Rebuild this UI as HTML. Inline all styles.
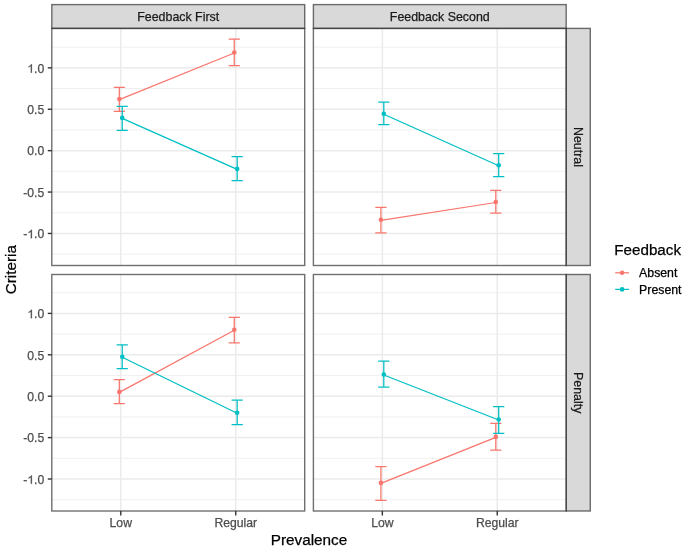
<!DOCTYPE html><html><head><meta charset="utf-8"><style>html,body{margin:0;padding:0;background:#fff;}svg{display:block;filter:blur(0.4px);}text{font-family:"Liberation Sans",sans-serif;stroke:currentColor;stroke-width:0.25px;}</style></head><body>
<svg width="685" height="551" viewBox="0 0 685 551">
<rect x="0" y="0" width="685" height="551" fill="#fff"/>
<rect x="51.8" y="4.6" width="252.9" height="23.8" fill="#D9D9D9"/>
<rect x="313.4" y="4.6" width="252.8" height="23.8" fill="#D9D9D9"/>
<rect x="566.2" y="28.4" width="24.1" height="237.1" fill="#D9D9D9"/>
<rect x="566.2" y="274.5" width="24.1" height="236.5" fill="#D9D9D9"/>
<line x1="51.8" x2="304.7" y1="47.15" y2="47.15" stroke="#EBEBEB" stroke-width="0.75"/>
<line x1="51.8" x2="304.7" y1="88.55" y2="88.55" stroke="#EBEBEB" stroke-width="0.75"/>
<line x1="51.8" x2="304.7" y1="129.95" y2="129.95" stroke="#EBEBEB" stroke-width="0.75"/>
<line x1="51.8" x2="304.7" y1="171.35" y2="171.35" stroke="#EBEBEB" stroke-width="0.75"/>
<line x1="51.8" x2="304.7" y1="212.75" y2="212.75" stroke="#EBEBEB" stroke-width="0.75"/>
<line x1="51.8" x2="304.7" y1="254.15" y2="254.15" stroke="#EBEBEB" stroke-width="0.75"/>
<line x1="51.8" x2="304.7" y1="67.85" y2="67.85" stroke="#EBEBEB" stroke-width="1.5"/>
<line x1="51.8" x2="304.7" y1="109.25" y2="109.25" stroke="#EBEBEB" stroke-width="1.5"/>
<line x1="51.8" x2="304.7" y1="150.65" y2="150.65" stroke="#EBEBEB" stroke-width="1.5"/>
<line x1="51.8" x2="304.7" y1="192.05" y2="192.05" stroke="#EBEBEB" stroke-width="1.5"/>
<line x1="51.8" x2="304.7" y1="233.45" y2="233.45" stroke="#EBEBEB" stroke-width="1.5"/>
<line x1="120.77" x2="120.77" y1="28.4" y2="265.5" stroke="#EBEBEB" stroke-width="1.5"/>
<line x1="235.73" x2="235.73" y1="28.4" y2="265.5" stroke="#EBEBEB" stroke-width="1.5"/>
<path d="M113.72 87.4H124.92M119.32 87.4V111.4M113.72 111.4H124.92" stroke="#F8766D" stroke-width="1.25" fill="none"/>
<path d="M228.68 39.1H239.88M234.28 39.1V65.7M228.68 65.7H239.88" stroke="#F8766D" stroke-width="1.25" fill="none"/>
<path d="M116.62 106.4H127.82M122.22 106.4V130.4M116.62 130.4H127.82" stroke="#00BFC4" stroke-width="1.25" fill="none"/>
<path d="M231.58 156.5H242.78M237.18 156.5V180.7M231.58 180.7H242.78" stroke="#00BFC4" stroke-width="1.25" fill="none"/>
<line x1="119.32" y1="99.6" x2="234.28" y2="53" stroke="#F8766D" stroke-width="1.25"/>
<circle cx="119.32" cy="99.1" r="2.3" fill="#F8766D"/>
<circle cx="234.28" cy="52.5" r="2.3" fill="#F8766D"/>
<line x1="122.22" y1="118.4" x2="237.18" y2="169.4" stroke="#00BFC4" stroke-width="1.25"/>
<circle cx="122.22" cy="117.9" r="2.3" fill="#00BFC4"/>
<circle cx="237.18" cy="168.9" r="2.3" fill="#00BFC4"/>
<rect x="51.8" y="28.4" width="252.9" height="237.1" fill="none" stroke="#333333" stroke-opacity="0.7" stroke-width="1.4"/>
<line x1="313.4" x2="566.2" y1="47.15" y2="47.15" stroke="#EBEBEB" stroke-width="0.75"/>
<line x1="313.4" x2="566.2" y1="88.55" y2="88.55" stroke="#EBEBEB" stroke-width="0.75"/>
<line x1="313.4" x2="566.2" y1="129.95" y2="129.95" stroke="#EBEBEB" stroke-width="0.75"/>
<line x1="313.4" x2="566.2" y1="171.35" y2="171.35" stroke="#EBEBEB" stroke-width="0.75"/>
<line x1="313.4" x2="566.2" y1="212.75" y2="212.75" stroke="#EBEBEB" stroke-width="0.75"/>
<line x1="313.4" x2="566.2" y1="254.15" y2="254.15" stroke="#EBEBEB" stroke-width="0.75"/>
<line x1="313.4" x2="566.2" y1="67.85" y2="67.85" stroke="#EBEBEB" stroke-width="1.5"/>
<line x1="313.4" x2="566.2" y1="109.25" y2="109.25" stroke="#EBEBEB" stroke-width="1.5"/>
<line x1="313.4" x2="566.2" y1="150.65" y2="150.65" stroke="#EBEBEB" stroke-width="1.5"/>
<line x1="313.4" x2="566.2" y1="192.05" y2="192.05" stroke="#EBEBEB" stroke-width="1.5"/>
<line x1="313.4" x2="566.2" y1="233.45" y2="233.45" stroke="#EBEBEB" stroke-width="1.5"/>
<line x1="382.35" x2="382.35" y1="28.4" y2="265.5" stroke="#EBEBEB" stroke-width="1.5"/>
<line x1="497.25" x2="497.25" y1="28.4" y2="265.5" stroke="#EBEBEB" stroke-width="1.5"/>
<path d="M375.3 207.3H386.5M380.9 207.3V232.8M375.3 232.8H386.5" stroke="#F8766D" stroke-width="1.25" fill="none"/>
<path d="M490.2 190.4H501.4M495.8 190.4V213.2M490.2 213.2H501.4" stroke="#F8766D" stroke-width="1.25" fill="none"/>
<path d="M378.2 102.1H389.4M383.8 102.1V124.7M378.2 124.7H389.4" stroke="#00BFC4" stroke-width="1.25" fill="none"/>
<path d="M493.1 153.7H504.3M498.7 153.7V176.5M493.1 176.5H504.3" stroke="#00BFC4" stroke-width="1.25" fill="none"/>
<line x1="380.9" y1="220.3" x2="495.8" y2="202.5" stroke="#F8766D" stroke-width="1.25"/>
<circle cx="380.9" cy="219.8" r="2.3" fill="#F8766D"/>
<circle cx="495.8" cy="202" r="2.3" fill="#F8766D"/>
<line x1="383.8" y1="114.3" x2="498.7" y2="165.7" stroke="#00BFC4" stroke-width="1.25"/>
<circle cx="383.8" cy="113.8" r="2.3" fill="#00BFC4"/>
<circle cx="498.7" cy="165.2" r="2.3" fill="#00BFC4"/>
<rect x="313.4" y="28.4" width="252.8" height="237.1" fill="none" stroke="#333333" stroke-opacity="0.7" stroke-width="1.4"/>
<line x1="51.8" x2="304.7" y1="292.7" y2="292.7" stroke="#EBEBEB" stroke-width="0.75"/>
<line x1="51.8" x2="304.7" y1="334.1" y2="334.1" stroke="#EBEBEB" stroke-width="0.75"/>
<line x1="51.8" x2="304.7" y1="375.5" y2="375.5" stroke="#EBEBEB" stroke-width="0.75"/>
<line x1="51.8" x2="304.7" y1="416.9" y2="416.9" stroke="#EBEBEB" stroke-width="0.75"/>
<line x1="51.8" x2="304.7" y1="458.3" y2="458.3" stroke="#EBEBEB" stroke-width="0.75"/>
<line x1="51.8" x2="304.7" y1="499.7" y2="499.7" stroke="#EBEBEB" stroke-width="0.75"/>
<line x1="51.8" x2="304.7" y1="313.4" y2="313.4" stroke="#EBEBEB" stroke-width="1.5"/>
<line x1="51.8" x2="304.7" y1="354.8" y2="354.8" stroke="#EBEBEB" stroke-width="1.5"/>
<line x1="51.8" x2="304.7" y1="396.2" y2="396.2" stroke="#EBEBEB" stroke-width="1.5"/>
<line x1="51.8" x2="304.7" y1="437.6" y2="437.6" stroke="#EBEBEB" stroke-width="1.5"/>
<line x1="51.8" x2="304.7" y1="479" y2="479" stroke="#EBEBEB" stroke-width="1.5"/>
<line x1="120.77" x2="120.77" y1="274.5" y2="511" stroke="#EBEBEB" stroke-width="1.5"/>
<line x1="235.73" x2="235.73" y1="274.5" y2="511" stroke="#EBEBEB" stroke-width="1.5"/>
<path d="M113.72 379.6H124.92M119.32 379.6V403.7M113.72 403.7H124.92" stroke="#F8766D" stroke-width="1.25" fill="none"/>
<path d="M228.68 317.3H239.88M234.28 317.3V342.8M228.68 342.8H239.88" stroke="#F8766D" stroke-width="1.25" fill="none"/>
<path d="M116.62 344.8H127.82M122.22 344.8V368.7M116.62 368.7H127.82" stroke="#00BFC4" stroke-width="1.25" fill="none"/>
<path d="M231.58 400.1H242.78M237.18 400.1V424.6M231.58 424.6H242.78" stroke="#00BFC4" stroke-width="1.25" fill="none"/>
<line x1="119.32" y1="392.4" x2="234.28" y2="330.2" stroke="#F8766D" stroke-width="1.25"/>
<circle cx="119.32" cy="391.9" r="2.3" fill="#F8766D"/>
<circle cx="234.28" cy="329.7" r="2.3" fill="#F8766D"/>
<line x1="122.22" y1="357.3" x2="237.18" y2="413.3" stroke="#00BFC4" stroke-width="1.25"/>
<circle cx="122.22" cy="356.8" r="2.3" fill="#00BFC4"/>
<circle cx="237.18" cy="412.8" r="2.3" fill="#00BFC4"/>
<rect x="51.8" y="274.5" width="252.9" height="236.5" fill="none" stroke="#333333" stroke-opacity="0.7" stroke-width="1.4"/>
<line x1="313.4" x2="566.2" y1="292.7" y2="292.7" stroke="#EBEBEB" stroke-width="0.75"/>
<line x1="313.4" x2="566.2" y1="334.1" y2="334.1" stroke="#EBEBEB" stroke-width="0.75"/>
<line x1="313.4" x2="566.2" y1="375.5" y2="375.5" stroke="#EBEBEB" stroke-width="0.75"/>
<line x1="313.4" x2="566.2" y1="416.9" y2="416.9" stroke="#EBEBEB" stroke-width="0.75"/>
<line x1="313.4" x2="566.2" y1="458.3" y2="458.3" stroke="#EBEBEB" stroke-width="0.75"/>
<line x1="313.4" x2="566.2" y1="499.7" y2="499.7" stroke="#EBEBEB" stroke-width="0.75"/>
<line x1="313.4" x2="566.2" y1="313.4" y2="313.4" stroke="#EBEBEB" stroke-width="1.5"/>
<line x1="313.4" x2="566.2" y1="354.8" y2="354.8" stroke="#EBEBEB" stroke-width="1.5"/>
<line x1="313.4" x2="566.2" y1="396.2" y2="396.2" stroke="#EBEBEB" stroke-width="1.5"/>
<line x1="313.4" x2="566.2" y1="437.6" y2="437.6" stroke="#EBEBEB" stroke-width="1.5"/>
<line x1="313.4" x2="566.2" y1="479" y2="479" stroke="#EBEBEB" stroke-width="1.5"/>
<line x1="382.35" x2="382.35" y1="274.5" y2="511" stroke="#EBEBEB" stroke-width="1.5"/>
<line x1="497.25" x2="497.25" y1="274.5" y2="511" stroke="#EBEBEB" stroke-width="1.5"/>
<path d="M375.3 466.5H386.5M380.9 466.5V500.4M375.3 500.4H386.5" stroke="#F8766D" stroke-width="1.25" fill="none"/>
<path d="M490.2 423.3H501.4M495.8 423.3V450.1M490.2 450.1H501.4" stroke="#F8766D" stroke-width="1.25" fill="none"/>
<path d="M378.2 361.2H389.4M383.8 361.2V387.2M378.2 387.2H389.4" stroke="#00BFC4" stroke-width="1.25" fill="none"/>
<path d="M493.1 406.6H504.3M498.7 406.6V433.3M493.1 433.3H504.3" stroke="#00BFC4" stroke-width="1.25" fill="none"/>
<line x1="380.9" y1="483.4" x2="495.8" y2="437.4" stroke="#F8766D" stroke-width="1.25"/>
<circle cx="380.9" cy="482.9" r="2.3" fill="#F8766D"/>
<circle cx="495.8" cy="436.9" r="2.3" fill="#F8766D"/>
<line x1="383.8" y1="375" x2="498.7" y2="420" stroke="#00BFC4" stroke-width="1.25"/>
<circle cx="383.8" cy="374.5" r="2.3" fill="#00BFC4"/>
<circle cx="498.7" cy="419.5" r="2.3" fill="#00BFC4"/>
<rect x="313.4" y="274.5" width="252.8" height="236.5" fill="none" stroke="#333333" stroke-opacity="0.7" stroke-width="1.4"/>
<rect x="51.8" y="4.6" width="252.9" height="23.8" fill="none" stroke="#333333" stroke-opacity="0.7" stroke-width="1.4"/>
<text x="178.25" y="20.5" font-size="12.4" fill="#1A1A1A" color="#1A1A1A" text-anchor="middle">Feedback First</text>
<rect x="313.4" y="4.6" width="252.8" height="23.8" fill="none" stroke="#333333" stroke-opacity="0.7" stroke-width="1.4"/>
<text x="439.8" y="20.5" font-size="12.4" fill="#1A1A1A" color="#1A1A1A" text-anchor="middle">Feedback Second</text>
<rect x="566.2" y="28.4" width="24.1" height="237.1" fill="none" stroke="#333333" stroke-opacity="0.7" stroke-width="1.4"/>
<text transform="translate(574.2 146.95) rotate(90)" x="0" y="0" font-size="12.4" fill="#1A1A1A" color="#1A1A1A" text-anchor="middle">Neutral</text>
<rect x="566.2" y="274.5" width="24.1" height="236.5" fill="none" stroke="#333333" stroke-opacity="0.7" stroke-width="1.4"/>
<text transform="translate(574.2 392.75) rotate(90)" x="0" y="0" font-size="12.4" fill="#1A1A1A" color="#1A1A1A" text-anchor="middle">Penalty</text>
<line x1="47.8" x2="51.8" y1="67.85" y2="67.85" stroke="#333333" stroke-width="1.4"/>
<text x="44.3" y="72.65" font-size="12.2" fill="#4D4D4D" color="#4D4D4D" text-anchor="end"> .0</text>
<path transform="translate(27.34 72.65) scale(0.005957 -0.005957)" d="M763 0L583 0L583 1098C540 1059 483 1019 412 980C341 941 278 910 222 890L222 1057C322 1102 410 1157 486 1221C562 1286 615 1349 646 1409L763 1409Z" fill="#4D4D4D" stroke="#4D4D4D" stroke-width="42.0"/>
<line x1="47.8" x2="51.8" y1="109.25" y2="109.25" stroke="#333333" stroke-width="1.4"/>
<text x="44.3" y="114.05" font-size="12.2" fill="#4D4D4D" color="#4D4D4D" text-anchor="end">0.5</text>
<line x1="47.8" x2="51.8" y1="150.65" y2="150.65" stroke="#333333" stroke-width="1.4"/>
<text x="44.3" y="155.45" font-size="12.2" fill="#4D4D4D" color="#4D4D4D" text-anchor="end">0.0</text>
<line x1="47.8" x2="51.8" y1="192.05" y2="192.05" stroke="#333333" stroke-width="1.4"/>
<text x="44.3" y="196.85" font-size="12.2" fill="#4D4D4D" color="#4D4D4D" text-anchor="end">-0.5</text>
<line x1="47.8" x2="51.8" y1="233.45" y2="233.45" stroke="#333333" stroke-width="1.4"/>
<text x="44.3" y="238.25" font-size="12.2" fill="#4D4D4D" color="#4D4D4D" text-anchor="end">- .0</text>
<path transform="translate(27.34 238.25) scale(0.005957 -0.005957)" d="M763 0L583 0L583 1098C540 1059 483 1019 412 980C341 941 278 910 222 890L222 1057C322 1102 410 1157 486 1221C562 1286 615 1349 646 1409L763 1409Z" fill="#4D4D4D" stroke="#4D4D4D" stroke-width="42.0"/>
<line x1="47.8" x2="51.8" y1="313.4" y2="313.4" stroke="#333333" stroke-width="1.4"/>
<text x="44.3" y="318.2" font-size="12.2" fill="#4D4D4D" color="#4D4D4D" text-anchor="end"> .0</text>
<path transform="translate(27.34 318.2) scale(0.005957 -0.005957)" d="M763 0L583 0L583 1098C540 1059 483 1019 412 980C341 941 278 910 222 890L222 1057C322 1102 410 1157 486 1221C562 1286 615 1349 646 1409L763 1409Z" fill="#4D4D4D" stroke="#4D4D4D" stroke-width="42.0"/>
<line x1="47.8" x2="51.8" y1="354.8" y2="354.8" stroke="#333333" stroke-width="1.4"/>
<text x="44.3" y="359.6" font-size="12.2" fill="#4D4D4D" color="#4D4D4D" text-anchor="end">0.5</text>
<line x1="47.8" x2="51.8" y1="396.2" y2="396.2" stroke="#333333" stroke-width="1.4"/>
<text x="44.3" y="401" font-size="12.2" fill="#4D4D4D" color="#4D4D4D" text-anchor="end">0.0</text>
<line x1="47.8" x2="51.8" y1="437.6" y2="437.6" stroke="#333333" stroke-width="1.4"/>
<text x="44.3" y="442.4" font-size="12.2" fill="#4D4D4D" color="#4D4D4D" text-anchor="end">-0.5</text>
<line x1="47.8" x2="51.8" y1="479" y2="479" stroke="#333333" stroke-width="1.4"/>
<text x="44.3" y="483.8" font-size="12.2" fill="#4D4D4D" color="#4D4D4D" text-anchor="end">- .0</text>
<path transform="translate(27.34 483.8) scale(0.005957 -0.005957)" d="M763 0L583 0L583 1098C540 1059 483 1019 412 980C341 941 278 910 222 890L222 1057C322 1102 410 1157 486 1221C562 1286 615 1349 646 1409L763 1409Z" fill="#4D4D4D" stroke="#4D4D4D" stroke-width="42.0"/>
<line x1="120.77" x2="120.77" y1="511" y2="515.5" stroke="#333333" stroke-width="1.4"/>
<text x="120.77" y="527.1" font-size="12.2" fill="#4D4D4D" color="#4D4D4D" text-anchor="middle">Low</text>
<line x1="235.73" x2="235.73" y1="511" y2="515.5" stroke="#333333" stroke-width="1.4"/>
<text x="235.73" y="527.1" font-size="12.2" fill="#4D4D4D" color="#4D4D4D" text-anchor="middle">Regular</text>
<line x1="382.35" x2="382.35" y1="511" y2="515.5" stroke="#333333" stroke-width="1.4"/>
<text x="382.35" y="527.1" font-size="12.2" fill="#4D4D4D" color="#4D4D4D" text-anchor="middle">Low</text>
<line x1="497.25" x2="497.25" y1="511" y2="515.5" stroke="#333333" stroke-width="1.4"/>
<text x="497.25" y="527.1" font-size="12.2" fill="#4D4D4D" color="#4D4D4D" text-anchor="middle">Regular</text>
<text x="309" y="544.8" font-size="15.3" fill="#000" color="#000" text-anchor="middle">Prevalence</text>
<text transform="translate(16.1 269.7) rotate(-90)" x="0" y="0" font-size="15.3" fill="#000" color="#000" text-anchor="middle">Criteria</text>
<text x="614.3" y="254.8" font-size="15.2" fill="#000" color="#000">Feedback</text>
<line x1="615.2" x2="629" y1="272.8" y2="272.8" stroke="#F8766D" stroke-width="1.25"/>
<circle cx="622.1" cy="272.8" r="2.3" fill="#F8766D"/>
<text x="639.1" y="277.1" font-size="12.3" fill="#000" color="#000">Absent</text>
<line x1="615.2" x2="629" y1="289.4" y2="289.4" stroke="#00BFC4" stroke-width="1.25"/>
<circle cx="622.1" cy="289.4" r="2.3" fill="#00BFC4"/>
<text x="639.1" y="293.7" font-size="12.3" fill="#000" color="#000">Present</text>
</svg></body></html>
